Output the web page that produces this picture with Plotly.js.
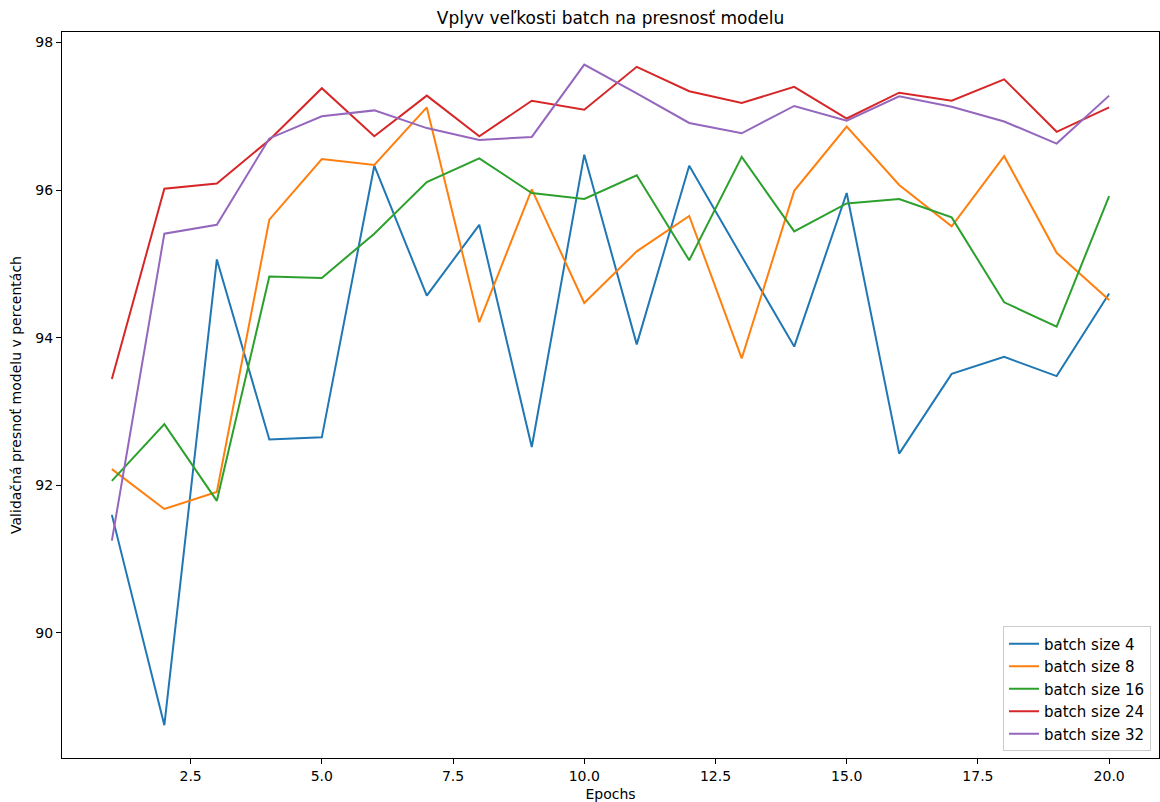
<!DOCTYPE html>
<html>
<head>
<meta charset="utf-8">
<script src="https://cdn.plot.ly/plotly-3.0.1.min.js"></script>
<style>html,body{margin:0;padding:0;background:#fff;}#chart{width:1160px;height:802px;}</style>
</head>
<body>
<div id="chart"></div>
<script>
const epochs = [1,2,3,4,5,6,7,8,9,10,11,12,13,14,15,16,17,18,19,20];
const bs4  = [91.60,88.75,95.06,92.62,92.65,96.33,94.57,95.53,92.52,96.48,93.91,96.33,95.10,93.88,95.96,92.43,93.51,93.74,93.48,94.60];
const bs8  = [92.22,91.68,91.91,95.60,96.42,96.34,97.12,94.21,96.01,94.47,95.17,95.65,93.72,95.99,96.86,96.07,95.51,96.46,95.15,94.51];
const bs16 = [92.06,92.83,91.79,94.83,94.81,95.41,96.11,96.43,95.96,95.88,96.20,95.05,96.45,95.44,95.82,95.88,95.63,94.48,94.15,95.92];
const bs24 = [93.44,96.02,96.09,96.68,97.38,96.73,97.28,96.73,97.21,97.09,97.67,97.34,97.18,97.40,96.97,97.32,97.21,97.50,96.79,97.12];
const bs32 = [91.25,95.41,95.53,96.70,97.00,97.08,96.84,96.68,96.72,97.70,97.31,96.91,96.77,97.14,96.94,97.27,97.13,96.93,96.63,97.28];
const seriesNames = ["batch size 4","batch size 8","batch size 16","batch size 24","batch size 32"];
const seriesColors = ["#1f77b4","#ff7f0e","#2ca02c","#d62728","#9467bd"];
const xTicks = [2.5,5,7.5,10,12.5,15,17.5,20];
const xTickText = ["2.5","5.0","7.5","10.0","12.5","15.0","17.5","20.0"];
const yTicks = [90,92,94,96,98];

const allSeries = [bs4, bs8, bs16, bs24, bs32];
const traces = allSeries.map((ys, i) => ({
  x: epochs, y: ys, type: 'scatter', mode: 'lines', name: seriesNames[i],
  line: {color: seriesColors[i], width: 2}
}));

const font = {family: 'DejaVu Sans, sans-serif', size: 14, color: '#000'};
const layout = {
  width: 1160, height: 802,
  margin: {l: 62, r: 1, t: 32, b: 44, pad: 0},
  paper_bgcolor: '#fff', plot_bgcolor: '#fff',
  font: font,
  showlegend: true,
  title: {text: 'Vplyv veľkosti batch na presnosť modelu', font: {family: 'DejaVu Sans, sans-serif', size: 17, color: '#000'}, x: 0.5, xanchor: 'center', y: 0.978, yanchor: 'middle', xref: 'paper'},
  xaxis: {
    range: [0.05, 20.95], tickmode: 'array', tickvals: xTicks, ticktext: xTickText,
    showgrid: false, zeroline: false, showline: true, mirror: true, linecolor: '#000', linewidth: 1,
    ticks: 'outside', ticklen: 5, tickwidth: 1, tickcolor: '#000', tickfont: font,
    automargin: false,
    title: {text: 'Epochs', font: font, standoff: 6}
  },
  yaxis: {
    range: [88.306, 98.142], tickmode: 'array', tickvals: yTicks, ticktext: yTicks.map(String),
    showgrid: false, zeroline: false, showline: true, mirror: true, linecolor: '#000', linewidth: 1,
    ticks: 'outside', ticklen: 5, tickwidth: 1, tickcolor: '#000', tickfont: font,
    automargin: false,
    title: {text: 'Validačná presnoť modelu v percentách', font: font, standoff: 10}
  },
  legend: {
    x: 0.9927, xanchor: 'right', y: 0.009, yanchor: 'bottom',
    bgcolor: 'rgba(255,255,255,0.8)', bordercolor: '#cccccc', borderwidth: 1,
    font: {family: 'DejaVu Sans, sans-serif', size: 15, color: '#000'},
    tracegroupgap: 0, itemwidth: 30
  }
};
Plotly.newPlot('chart', traces, layout, {displayModeBar: false, staticPlot: true});
</script>
</body>
</html>
